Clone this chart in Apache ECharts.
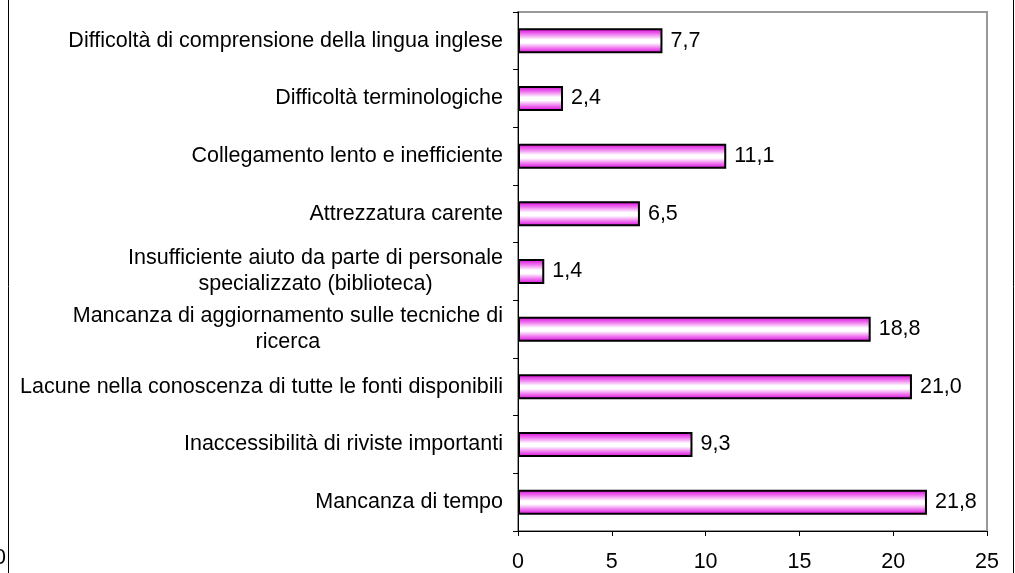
<!DOCTYPE html>
<html>
<head>
<meta charset="utf-8">
<script src="https://cdn.jsdelivr.net/npm/echarts@6/dist/echarts.min.js"></script>
<style>
  html, body { margin: 0; padding: 0; background: #fff; }
  #chart { width: 1015px; height: 573px; }
</style>
</head>
<body>
<div id="chart"></div>
<script>
// categories listed bottom to top
const categories = [
  'Mancanza di tempo',
  'Inaccessibilità di riviste importanti',
  'Lacune nella conoscenza di tutte le fonti disponibili',
  'Mancanza di aggiornamento sulle tecniche di\nricerca',
  'Insufficiente aiuto da parte di personale\nspecializzato (biblioteca)',
  'Attrezzatura carente',
  'Collegamento lento e inefficiente',
  'Difficoltà terminologiche',
  'Difficoltà di comprensione della lingua inglese'
];
const values = [21.8, 9.3, 21.0, 18.8, 1.4, 6.5, 11.1, 2.4, 7.7];
const xTicks = [0, 5, 10, 15, 20, 25];

const chart = echarts.init(document.getElementById('chart'));

const font = '"Liberation Sans", Arial, sans-serif';
const fs = 21.5;

chart.setOption({
  animation: false,
  grid: {
    left: 518,
    right: 28,
    top: 12,
    bottom: 41,
    show: true,
    borderColor: '#999',
    borderWidth: 2
  },
  xAxis: {
    type: 'value',
    min: xTicks[0],
    max: xTicks[xTicks.length - 1],
    interval: 5,
    axisLine: { show: true, lineStyle: { color: '#000', width: 1 } },
    axisTick: { show: true, length: 5, lineStyle: { color: '#000' } },
    splitLine: { show: false },
    axisLabel: {
      color: '#000',
      fontSize: fs,
      fontFamily: font,
      margin: 20
    }
  },
  yAxis: {
    type: 'category',
    data: categories,
    axisLine: { show: true, lineStyle: { color: '#000', width: 1 } },
    axisTick: { show: true, length: 5, lineStyle: { color: '#000' } },
    axisLabel: {
      margin: 15,
      formatter: function (v) {
        return v.split('\n').map(s => '{c|' + s + '}').join('\n');
      },
      rich: {
        c: {
          align: 'center',
          color: '#000',
          fontSize: fs,
          fontFamily: font,
          lineHeight: 26
        }
      }
    }
  },
  series: [{
    type: 'bar',
    data: values,
    barWidth: 25,
    itemStyle: {
      color: new echarts.graphic.LinearGradient(0, 0, 0, 1, [
        { offset: 0, color: '#d800d8' },
        { offset: 0.22, color: '#ee70ee' },
        { offset: 0.45, color: '#ffffff' },
        { offset: 0.58, color: '#ffffff' },
        { offset: 0.8, color: '#ee70ee' },
        { offset: 1, color: '#d800d8' }
      ]),
      borderColor: '#000',
      borderWidth: 2
    },
    label: {
      show: true,
      position: 'right',
      distance: 8,
      color: '#000',
      fontSize: fs,
      fontFamily: font,
      formatter: p => p.value.toFixed(1).replace('.', ',')
    }
  }],
  graphic: [
    { type: 'line', shape: { x1: 8.5, y1: 0, x2: 8.5, y2: 573 }, style: { stroke: '#000', lineWidth: 1 } },
    { type: 'line', shape: { x1: 1013.5, y1: 0, x2: 1013.5, y2: 573 }, style: { stroke: '#000', lineWidth: 1 } },
    { type: 'text', left: -6, top: 547, style: { text: '0', fill: '#000', font: fs + 'px ' + font } }
  ]
});
</script>
</body>
</html>
